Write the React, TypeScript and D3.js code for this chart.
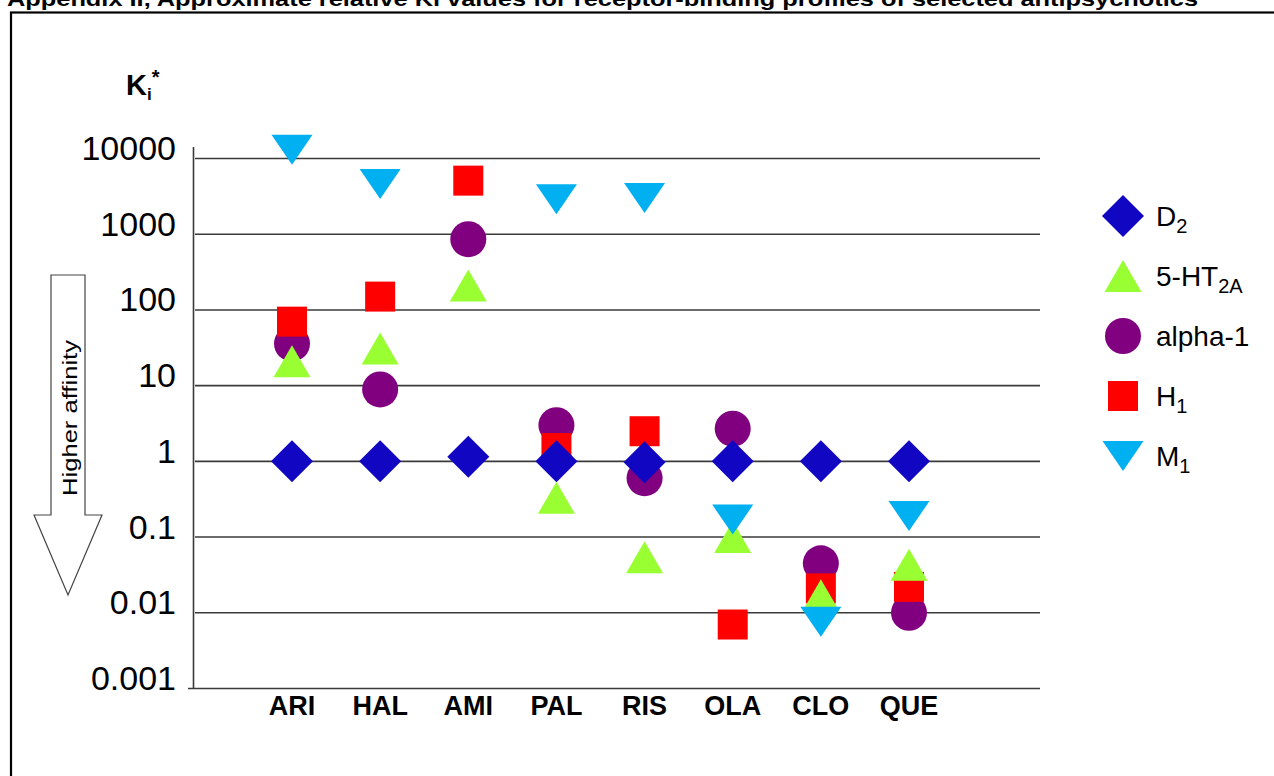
import React, { useEffect, useRef } from "react";
import * as d3 from "d3";

const drugs = ["ARI", "HAL", "AMI", "PAL", "RIS", "OLA", "CLO", "QUE"];
const yTicks = [10000, 1000, 100, 10, 1, 0.1, 0.01, 0.001];
const yTickLabels = ["10000", "1000", "100", "10", "1", "0.1", "0.01", "0.001"];

// approximate relative Ki, one value per drug (null = not shown)
const d2 = [1, 1, 1.15, 1, 0.97, 1, 1, 1];
const ht2a = [21, 31, 210, 0.33, 0.054, 0.1, 0.017, 0.043];
const alpha1 = [36, 8.9, 860, 3.0, 0.6, 2.7, 0.045, 0.01];
const h1 = [70, 150, 5100, 1.5, 2.5, 0.007, 0.021, 0.022];
const m1 = [13000, 4600, null, 2900, 3000, 0.17, 0.0076, 0.19];

const titleText =
  "Appendix II, Approximate relative Ki values for receptor-binding profiles of selected antipsychotics";

// marker shapes, centred on their bounding box
const diamondType = {
  draw(ctx: any) {
    const r = 21;
    ctx.moveTo(0, -r);
    ctx.lineTo(r, 0);
    ctx.lineTo(0, r);
    ctx.lineTo(-r, 0);
    ctx.closePath();
  },
};
const squareType = {
  draw(ctx: any) {
    ctx.rect(-15, -15, 30, 30);
  },
};
const circleType = {
  draw(ctx: any) {
    ctx.moveTo(18, 0);
    ctx.arc(0, 0, 18, 0, 2 * Math.PI);
  },
};
const triUpType = {
  draw(ctx: any) {
    ctx.moveTo(0, -16);
    ctx.lineTo(18.5, 16);
    ctx.lineTo(-18.5, 16);
    ctx.closePath();
  },
};
const triDownType = {
  draw(ctx: any) {
    ctx.moveTo(-20.5, -15);
    ctx.lineTo(20.5, -15);
    ctx.lineTo(0, 15);
    ctx.closePath();
  },
};

interface Series {
  key: string;
  label: string;
  sub: string;
  color: string;
  type: any;
  values: (number | null)[];
}

const seriesD2: Series = { key: "d2", label: "D", sub: "2", color: "#1106C2", type: diamondType, values: d2 };
const seriesHt: Series = { key: "ht", label: "5-HT", sub: "2A", color: "#99FF33", type: triUpType, values: ht2a };
const seriesA1: Series = { key: "a1", label: "alpha-1", sub: "", color: "#800080", type: circleType, values: alpha1 };
const seriesH1: Series = { key: "h1", label: "H", sub: "1", color: "#FF0000", type: squareType, values: h1 };
const seriesM1: Series = { key: "m1", label: "M", sub: "1", color: "#00B0F0", type: triDownType, values: m1 };

const legendOrder = [seriesD2, seriesHt, seriesA1, seriesH1, seriesM1];
const drawOrder = [seriesA1, seriesH1, seriesHt, seriesM1, seriesD2];

const FONT = "'Liberation Sans', Arial, sans-serif";

const App: React.FC = () => {
  const svgRef = useRef<SVGSVGElement | null>(null);

  useEffect(() => {
    const width = 1274;
    const height = 776;

    const svg = d3.select(svgRef.current).attr("width", width).attr("height", height);
    svg.selectAll("*").remove();

    const x = d3.scalePoint<string>().domain(drugs).range([292, 909]);
    const y = d3.scaleLog().domain([0.001, 10000]).range([688.5, 158.5]);

    // title (clipped at the top of the page, as in the source) and frame
    svg
      .append("text")
      .attr("x", 7)
      .attr("y", 6)
      .attr("font-family", FONT)
      .attr("font-weight", "bold")
      .attr("font-size", 20)
      .attr("textLength", 1191)
      .attr("lengthAdjust", "spacingAndGlyphs")
      .text(titleText);

    svg
      .append("rect")
      .attr("x", 11)
      .attr("y", 12.5)
      .attr("width", 1300)
      .attr("height", 800)
      .attr("fill", "none")
      .attr("stroke", "#000")
      .attr("stroke-width", 2.2);

    // grid lines
    svg
      .append("g")
      .selectAll("line")
      .data(yTicks)
      .join("line")
      .attr("x1", (d) => (d === 0.001 ? 188 : 195))
      .attr("x2", 1040)
      .attr("y1", (d) => y(d))
      .attr("y2", (d) => y(d))
      .attr("stroke", "#3a3a3a")
      .attr("stroke-width", 1.6);

    svg
      .append("line")
      .attr("x1", 193.5)
      .attr("x2", 193.5)
      .attr("y1", 147)
      .attr("y2", y(0.001))
      .attr("stroke", "#3a3a3a")
      .attr("stroke-width", 1.6);

    // y tick labels
    svg
      .append("g")
      .selectAll("text")
      .data(yTicks)
      .join("text")
      .attr("x", 176)
      .attr("y", (d) => y(d) + 1.5)
      .attr("text-anchor", "end")
      .attr("font-family", FONT)
      .attr("font-size", 34)
      .attr("fill", "#000")
      .text((d, i) => yTickLabels[i]);

    // x labels
    svg
      .append("g")
      .selectAll("text")
      .data(drugs)
      .join("text")
      .attr("x", (d) => x(d)!)
      .attr("y", 715)
      .attr("text-anchor", "middle")
      .attr("font-family", FONT)
      .attr("font-weight", "bold")
      .attr("font-size", 27)
      .text((d) => d);

    // Ki* axis title
    const ki = svg
      .append("text")
      .attr("x", 126)
      .attr("y", 95)
      .attr("font-family", FONT)
      .attr("font-weight", "bold")
      .attr("font-size", 29);
    ki.append("tspan").text("K");
    ki.append("tspan").attr("font-size", 17).attr("dy", 5).text("i");
    ki.append("tspan").attr("font-size", 20).attr("dy", -16).text("*");

    // "Higher affinity" arrow
    svg
      .append("path")
      .attr("d", "M51,275 L85,275 L85,515 L102,515 L68,595 L34,515 L51,515 Z")
      .attr("fill", "#fff")
      .attr("stroke", "#444")
      .attr("stroke-width", 1.2);

    svg
      .append("text")
      .attr("transform", "translate(77,418) rotate(-90)")
      .attr("text-anchor", "middle")
      .attr("font-family", FONT)
      .attr("font-size", 20)
      .attr("textLength", 156)
      .attr("lengthAdjust", "spacingAndGlyphs")
      .text("Higher affinity");

    // markers
    drawOrder.forEach((s) => {
      const pts = s.values
        .map((v, i) => ({ drug: drugs[i], v }))
        .filter((p) => p.v !== null) as { drug: string; v: number }[];
      svg
        .append("g")
        .selectAll("path")
        .data(pts)
        .join("path")
        .attr("transform", (p) => `translate(${x(p.drug)},${y(p.v)})`)
        .attr("d", d3.symbol().type(s.type)()!)
        .attr("fill", s.color);
    });

    // legend
    const legend = svg
      .append("g")
      .selectAll("g")
      .data(legendOrder)
      .join("g")
      .attr("transform", (d, i) => `translate(1123,${216 + i * 60})`);

    legend
      .append("path")
      .attr("d", (d) => d3.symbol().type(d.type)()!)
      .attr("fill", (d) => d.color);

    const lt = legend
      .append("text")
      .attr("x", 33)
      .attr("y", 10)
      .attr("font-family", FONT)
      .attr("font-size", 28)
      .attr("fill", "#000");
    lt.append("tspan").text((d) => d.label);
    lt.append("tspan")
      .attr("font-size", 20)
      .attr("dy", 7)
      .text((d) => d.sub);
  }, []);

  return <svg ref={svgRef} style={{ position: "absolute", left: 0, top: 0, background: "#fff" }}></svg>;
};

export default App;
